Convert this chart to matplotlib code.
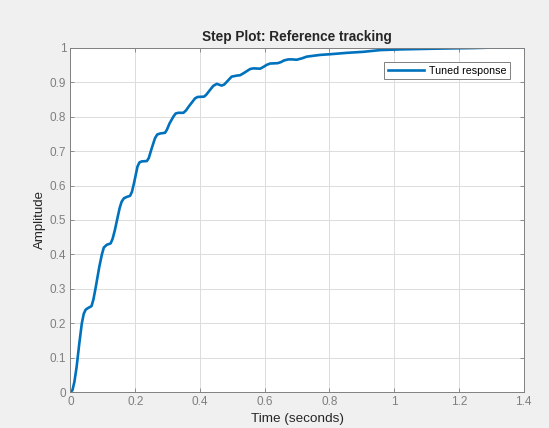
import matplotlib
matplotlib.use("Agg")
import matplotlib.pyplot as plt

# step response (time in s, amplitude)
time_s = [0.0, 0.006, 0.012, 0.019, 0.027, 0.035, 0.041, 0.047, 0.055, 0.065,
          0.071, 0.078, 0.089, 0.097, 0.103, 0.112, 0.124, 0.130, 0.137, 0.145,
          0.152, 0.158, 0.165, 0.174, 0.184, 0.190, 0.197, 0.207, 0.213, 0.220,
          0.236, 0.242, 0.250, 0.261, 0.268, 0.277, 0.292, 0.298, 0.306, 0.318,
          0.325, 0.333, 0.349, 0.357, 0.366, 0.385, 0.393, 0.413, 0.420, 0.430,
          0.441, 0.452, 0.467, 0.475, 0.485, 0.498, 0.514, 0.524, 0.535, 0.545,
          0.555, 0.565, 0.586, 0.596, 0.606, 0.617, 0.640, 0.650, 0.660, 0.673,
          0.685, 0.699, 0.715, 0.730, 0.771, 0.802, 0.854, 0.905, 0.957, 1.018,
          1.120, 1.250, 1.290, 1.400]
amplitude = [0.0, 0.006, 0.030, 0.074, 0.140, 0.200, 0.228, 0.240, 0.245, 0.250,
             0.270, 0.305, 0.364, 0.400, 0.420, 0.428, 0.432, 0.445, 0.470, 0.505,
             0.535, 0.553, 0.563, 0.567, 0.570, 0.582, 0.610, 0.655, 0.667, 0.670,
             0.671, 0.680, 0.705, 0.737, 0.748, 0.751, 0.753, 0.762, 0.780, 0.800,
             0.809, 0.811, 0.811, 0.818, 0.830, 0.853, 0.857, 0.858, 0.864, 0.876,
             0.889, 0.895, 0.890, 0.893, 0.903, 0.916, 0.919, 0.920, 0.926, 0.932,
             0.938, 0.940, 0.939, 0.944, 0.950, 0.954, 0.955, 0.958, 0.963, 0.966,
             0.966, 0.965, 0.969, 0.974, 0.979, 0.981, 0.985, 0.988, 0.993, 0.995,
             0.997, 0.999, 1.000, 1.000]

x_ticks = [0, 0.2, 0.4, 0.6, 0.8, 1.0, 1.2, 1.4]
x_labels = ["0", "0.2", "0.4", "0.6", "0.8", "1", "1.2", "1.4"]
y_ticks = [0, 0.1, 0.2, 0.3, 0.4, 0.5, 0.6, 0.7, 0.8, 0.9, 1.0]
y_labels = ["0", "0.1", "0.2", "0.3", "0.4", "0.5", "0.6", "0.7", "0.8", "0.9", "1"]

plt.rcParams['font.family'] = ['Liberation Sans', 'DejaVu Sans']

fig = plt.figure(figsize=(5.49, 4.28), dpi=100, facecolor='#f0f0f0')
ax = fig.add_axes([0.1284, 0.0834, 0.8252, 0.8052])
ax.set_facecolor('white')

ax.plot(time_s, amplitude, color='#0072BD', linewidth=1.9, label='Tuned response',
        solid_joinstyle='round')

ax.set_xlim(0, 1.4)
ax.set_ylim(0, 1)
ax.set_xticks(x_ticks)
ax.set_xticklabels(x_labels)
ax.set_yticks(y_ticks)
ax.set_yticklabels(y_labels)
ax.tick_params(direction='in', length=3, width=0.6, colors='#7f7f7f',
               labelsize=8.5, top=True, right=True, pad=3)

ax.grid(True, color='#dcdcdc', linewidth=0.7)
ax.set_axisbelow(True)
for s in ax.spines.values():
    s.set_color('#808080')
    s.set_linewidth(0.7)

ax.set_xlabel('Time (seconds)', fontsize=9.7, color='#262626', labelpad=3)
ax.set_ylabel('Amplitude', fontsize=9.5, color='#262626', labelpad=3)
ax.set_title('Step Plot: Reference tracking', fontsize=9.8, fontweight='bold',
             color='#262626', pad=5)

leg = ax.legend(loc='upper right', bbox_to_anchor=(0.982, 0.973), fontsize=7.7,
                fancybox=False, framealpha=1, edgecolor='#808080',
                handlelength=3.4, borderpad=0.3, handletextpad=0.5)
leg.get_frame().set_linewidth(0.7)

fig.savefig('out.png', dpi=100, facecolor=fig.get_facecolor())
